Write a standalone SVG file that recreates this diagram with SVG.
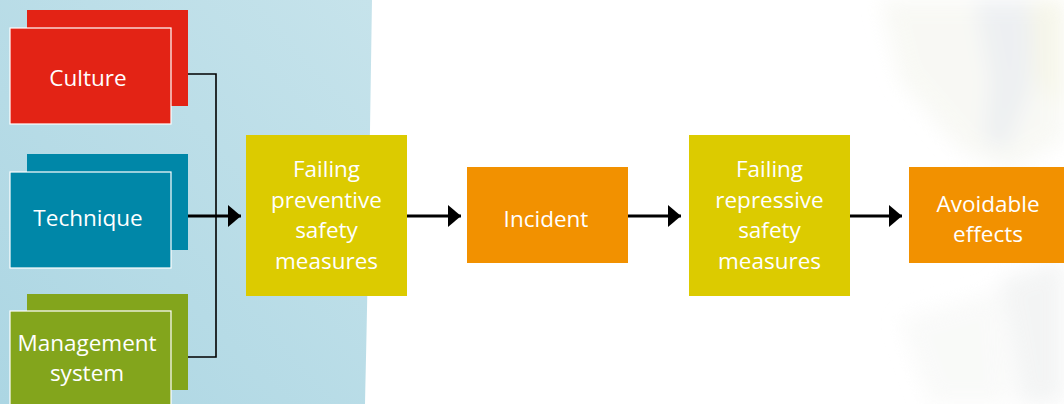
<svg xmlns="http://www.w3.org/2000/svg" width="1064" height="404" viewBox="0 0 1064 404">
<defs>
<linearGradient id="bg" x1="1" y1="0" x2="0" y2="1">
<stop offset="0" stop-color="#c6e3eb"/>
<stop offset="1" stop-color="#acd6e3"/>
</linearGradient>
<filter id="blur" x="-30%" y="-30%" width="160%" height="160%"><feGaussianBlur stdDeviation="10"/></filter>
<marker id="ah" markerWidth="14" markerHeight="24" viewBox="0 0 14 24" refX="13" refY="12" orient="auto" markerUnits="userSpaceOnUse">
<path d="M0,1 L13,12 L0,23 Z" fill="#000"/>
</marker>
<style>
.t{font-family:"Open Sans","Noto Sans","DejaVu Sans",sans-serif;font-size:22.5px;fill:#fff;text-anchor:middle}
.fr{stroke:#fff;stroke-width:1.2}
.red{fill:#e32315}
.teal{fill:#0087a8}
.grn{fill:#83a51c}
.yel{fill:#dccb00}
.org{fill:#f29100}
.arr{stroke:#000;stroke-width:3;fill:none;marker-end:url(#ah)}
.thin{stroke:#000;stroke-width:1.6;fill:none}
</style>
</defs>
<rect width="1064" height="404" fill="#fff"/>
<g id="bgimage" filter="url(#blur)" opacity="0.6">
<polygon points="880,0 1064,0 1064,140 1010,170 960,150 900,80" fill="#f4f5ee"/>
<polygon points="975,0 1035,0 1030,90 1005,150 985,140 990,80" fill="#e2e6ea"/>
<polygon points="1030,0 1064,0 1064,110 1035,80" fill="#f0f0dc"/>
<polygon points="1000,280 1064,260 1064,404 1020,404" fill="#eceeee"/>
<polygon points="900,320 1000,290 1010,404 930,404" fill="#f6f7f5"/>
</g>
<path id="bluebg" d="M0,0 L372,0 C370,130 368,280 365,404 L0,404 Z" fill="url(#bg)"/>
<g id="connectors">
<polyline class="thin" points="184,74 216,74 216,357 177,357"/>
<line class="arr" x1="188" y1="216" x2="241" y2="216"/>
<line class="arr" x1="407" y1="216" x2="461" y2="216"/>
<line class="arr" x1="628" y1="216" x2="681" y2="216"/>
<line class="arr" x1="850" y1="216" x2="902" y2="216"/>
</g>
<g id="culture">
<rect class="red" x="27" y="10" width="161" height="96"/>
<rect class="red fr" x="10" y="28" width="161" height="96"/>
<text class="t" x="88" y="86">Culture</text>
</g>
<g id="technique">
<rect class="teal" x="27" y="154" width="161" height="96"/>
<rect class="teal fr" x="10" y="172" width="161" height="96"/>
<text class="t" x="88" y="226">Technique</text>
</g>
<g id="management">
<rect class="grn" x="27" y="294" width="161" height="96"/>
<rect class="grn fr" x="10" y="311" width="161" height="100"/>
<text class="t" x="87" y="351">Management</text>
<text class="t" x="87" y="381">system</text>
</g>
<g id="preventive">
<rect class="yel" x="246" y="135" width="161" height="161"/>
<text class="t" x="326.5" y="177">Failing</text>
<text class="t" x="326.5" y="208">preventive</text>
<text class="t" x="326.5" y="238">safety</text>
<text class="t" x="326.5" y="269">measures</text>
</g>
<g id="incident">
<rect class="org" x="467" y="167" width="161" height="96"/>
<text class="t" x="546" y="227">Incident</text>
</g>
<g id="repressive">
<rect class="yel" x="689" y="135" width="161" height="161"/>
<text class="t" x="769.5" y="177">Failing</text>
<text class="t" x="769.5" y="208">repressive</text>
<text class="t" x="769.5" y="238">safety</text>
<text class="t" x="769.5" y="269">measures</text>
</g>
<g id="effects">
<rect class="org" x="909" y="167" width="161" height="96"/>
<text class="t" x="988" y="212">Avoidable</text>
<text class="t" x="988" y="242">effects</text>
</g>
</svg>
